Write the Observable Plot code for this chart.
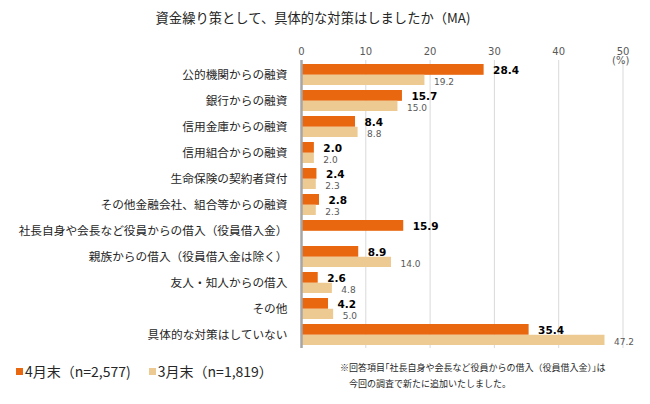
<!DOCTYPE html>
<html>
<head>
<meta charset="utf-8">
<script src="https://cdn.jsdelivr.net/npm/d3@7"></script>
<script src="https://cdn.jsdelivr.net/npm/@observablehq/plot@0.6"></script>
<style>
  html, body { margin: 0; padding: 0; background: #fff; }
  #wrap { position: relative; width: 650px; height: 404px; overflow: hidden; font-family: "Noto Sans CJK JP", sans-serif; color: #262626; }
  #chart { position: absolute; left: 0; top: 0; }
  .title { position: absolute; left: 0; width: 626px; top: 8px; text-align: center; font-size: 13.3px; line-height: 20px; }
  .pct { position: absolute; left: 612px; top: 55px; font-size: 10px; font-family: "DejaVu Sans", sans-serif; color: #595959; }
  .legend { position: absolute; top: 361px; left: 16px; font-size: 14px; line-height: 20px; display: flex; gap: 18px; }
  .legend .item { display: flex; align-items: center; }
  .legend .sw { display: inline-block; width: 7px; height: 7px; margin-right: 2px; }
  .note { position: absolute; left: 340px; top: 360px; font-size: 9px; line-height: 16px; }
</style>
</head>
<body>
<div id="wrap">
  <div id="chart"></div>
  <div class="title" id="title"></div>
  <div class="pct">(%)</div>
  <div class="legend" id="legend"></div>
  <div class="note" id="note"></div>
</div>
<script>
const titleText = "資金繰り策として、具体的な対策はしましたか（MA)";
const categories = [
  "公的機関からの融資",
  "銀行からの融資",
  "信用金庫からの融資",
  "信用組合からの融資",
  "生命保険の契約者貸付",
  "その他金融会社、組合等からの融資",
  "社長自身や会長など役員からの借入（役員借入金）",
  "親族からの借入（役員借入金は除く）",
  "友人・知人からの借入",
  "その他",
  "具体的な対策はしていない"
];
const aprilValues = [28.4, 15.7, 8.4, 2.0, 2.4, 2.8, 15.9, 8.9, 2.6, 4.2, 35.4];
const marchValues = [19.2, 15.0, 8.8, 2.0, 2.3, 2.3, null, 14.0, 4.8, 5.0, 47.2];
const xTicks = [0, 10, 20, 30, 40, 50];
const seriesNames = ["4月末（n=2,577)", "3月末（n=1,819）"];
const seriesColors = ["#E8670F", "#EDCA92"];
const noteLines = [
  "※回答項目｢社長自身や会長など役員からの借入（役員借入金）｣は",
  "　今回の調査で新たに追加いたしました。"
];

const aprilData = categories.map((c, i) => ({cat: c, v: aprilValues[i]}));
const marchData = categories.map((c, i) => ({cat: c, v: marchValues[i]})).filter(d => d.v != null);

const plot = Plot.plot({
  width: 650,
  height: 404,
  marginTop: 60,
  marginBottom: 56,
  marginLeft: 301,
  marginRight: 27.5,
  style: {fontFamily: "'Noto Sans CJK JP', sans-serif", color: "#262626", background: "transparent"},
  x: {domain: [0, 50], axis: null},
  y: {domain: categories, paddingInner: 0.2, paddingOuter: 0.1, axis: null},
  marks: [
    Plot.ruleX(xTicks.slice(1), {stroke: "#d9d9d9", strokeWidth: 1}),
    Plot.axisX(xTicks, {anchor: "top", tickSize: 0, tickPadding: 6, fontSize: 10, fill: "#595959", fontFamily: "DejaVu Sans, sans-serif", label: null}),
    Plot.axisY({anchor: "left", tickSize: 0, tickPadding: 14, fontSize: 11.7, fill: "#262626", label: null}),
    Plot.barX(aprilData, {x: "v", y: "cat", fill: seriesColors[0], insetBottom: 10.2}),
    Plot.barX(marchData, {x: "v", y: "cat", fill: seriesColors[1], insetTop: 10.75}),
    Plot.ruleX([0], {stroke: "#a6a6a6", strokeWidth: 2.5}),
    Plot.text(aprilData, {x: "v", y: "cat", text: d => d.v.toFixed(1), textAnchor: "start", dx: 9, dy: -4, fontWeight: "bold", fontSize: 10.5, fill: "#000", fontFamily: "DejaVu Sans, sans-serif"}),
    Plot.text(marchData, {x: "v", y: "cat", text: d => d.v.toFixed(1), textAnchor: "start", dx: 9, dy: 7, fontSize: 9, fill: "#595959", fontFamily: "DejaVu Sans, sans-serif"})
  ]
});
document.getElementById("chart").appendChild(plot);
document.getElementById("title").textContent = titleText;

const legend = document.getElementById("legend");
seriesNames.forEach((name, i) => {
  const item = document.createElement("span");
  item.className = "item";
  const sw = document.createElement("span");
  sw.className = "sw";
  sw.style.background = seriesColors[i];
  item.appendChild(sw);
  item.appendChild(document.createTextNode(name));
  legend.appendChild(item);
});
const note = document.getElementById("note");
noteLines.forEach(t => {
  const d = document.createElement("div");
  d.textContent = t;
  note.appendChild(d);
});
</script>
</body>
</html>
